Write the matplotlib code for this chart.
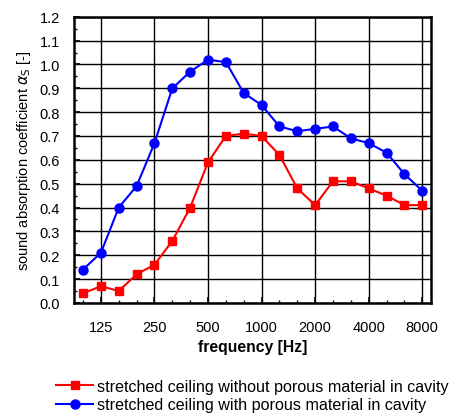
import matplotlib
matplotlib.use("Agg")
import matplotlib.pyplot as plt
import numpy as np

plt.rcParams['font.family'] = ['Liberation Sans', 'DejaVu Sans']

# third-octave band centre frequencies [Hz]
freqs = [100, 125, 160, 200, 250, 315, 400, 500, 630, 800, 1000,
         1250, 1600, 2000, 2500, 3150, 4000, 5000, 6300, 8000]
octave_labels = ['125', '250', '500', '1000', '2000', '4000', '8000']

# sound absorption coefficient
alpha_without = [0.04, 0.07, 0.05, 0.12, 0.16, 0.26, 0.40, 0.59, 0.70, 0.71,
                 0.70, 0.62, 0.48, 0.41, 0.51, 0.51, 0.48, 0.45, 0.41, 0.41]
alpha_with = [0.14, 0.21, 0.40, 0.49, 0.67, 0.90, 0.97, 1.02, 1.01, 0.88,
              0.83, 0.74, 0.72, 0.73, 0.74, 0.69, 0.67, 0.63, 0.54, 0.47]

x = np.arange(len(freqs))
oct_pos = [freqs.index(int(f)) for f in octave_labels]

fig = plt.figure(figsize=(4.52, 4.14), dpi=100)
ax = fig.add_axes([0.164, 0.266, 0.79, 0.691])

ax.plot(x, alpha_without, color='#ff0000', marker='s', markersize=6, lw=1.5,
        label='stretched ceiling without porous material in cavity')
ax.plot(x, alpha_with, color='#0000ff', marker='o', markersize=6.5, lw=1.5,
        label='stretched ceiling with porous material in cavity')

ax.set_xlim(-0.5, len(freqs) - 0.5)
ax.set_ylim(0, 1.2)
ax.set_xticks(oct_pos)
ax.set_xticklabels(octave_labels)
ax.set_xticks(x, minor=True)
ax.set_yticks(np.arange(0, 1.21, 0.1))
ax.set_yticklabels(['%.1f' % v for v in np.arange(0, 1.21, 0.1)])
ax.set_yticks(np.arange(0.05, 1.2, 0.1), minor=True)
ax.grid(True, which='major', color='black', lw=1.0)
ax.set_axisbelow(True)
ax.tick_params(axis='both', which='major', labelsize=10.5, length=4,
               width=1.2, direction='in')
ax.tick_params(axis='both', which='minor', length=2.5, width=1.0, direction='in')
ax.tick_params(axis='x', pad=12)
ax.tick_params(axis='y', pad=10)
for s in ax.spines.values():
    s.set_linewidth(1.8)

ax.set_xlabel('frequency [Hz]', fontsize=11.3, fontweight='bold', labelpad=4)
ax.set_ylabel(r'sound absorption coefficient $\alpha_\mathrm{S}$ [-]',
              fontsize=10.5, labelpad=5)

fig.legend(loc='lower left', bbox_to_anchor=(0.11, -0.014), frameon=False,
           fontsize=11.6, handlelength=2.3, handletextpad=0.25, labelspacing=0.2,
           borderaxespad=0)

fig.savefig('out.png', dpi=100)
